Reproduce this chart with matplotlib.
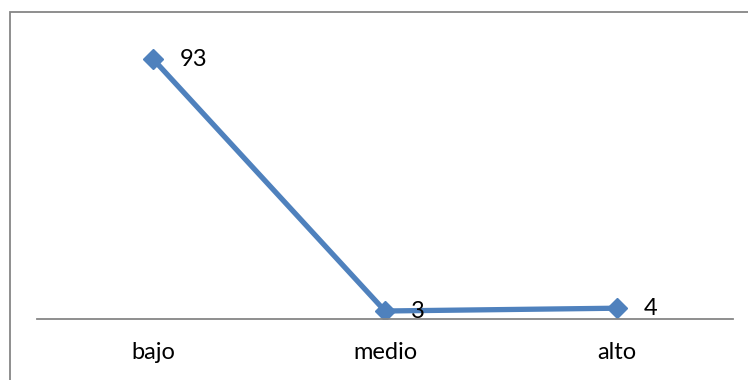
import matplotlib
matplotlib.use("Agg")
import matplotlib.pyplot as plt
from matplotlib.patches import Rectangle

categories = ["bajo", "medio", "alto"]
values = [93, 3, 4]

plt.rcParams['font.family'] = ['Lato', 'DejaVu Sans']

W, H = 748, 380
fig = plt.figure(figsize=(W / 100, H / 100), dpi=100)
fig.patch.set_facecolor("white")

# outer border (top and left visible, others run off the canvas)
fig.add_artist(Rectangle((9.5 / W, -0.1), 1.2, (H - 11.5) / H + 0.1,
                         transform=fig.transFigure, fill=False,
                         edgecolor="#868686", linewidth=1.3, clip_on=False))

ax = fig.add_axes([37 / W, (H - 319.4) / H, 696 / W, 280 / H])
x = list(range(len(categories)))
ax.plot(x, values, color="#4F81BD", linewidth=3.8, marker="D",
        markersize=10, markerfacecolor="#4F81BD", markeredgecolor="#4F81BD",
        solid_joinstyle="round")

for xi, v in zip(x, values):
    ax.annotate(str(v), (xi, v), xytext=(19, 0), textcoords="offset points",
                ha="left", va="center", fontsize=17, color="black")

ax.set_xlim(-0.5, 2.5)
ax.set_ylim(0, 100)
ax.set_xticks(x)
ax.set_xticklabels(categories, fontsize=17)
ax.tick_params(axis="x", length=0, pad=16)
ax.set_yticks([])
for s in ["top", "right", "left"]:
    ax.spines[s].set_visible(False)
ax.spines["bottom"].set_color("#868686")
ax.spines["bottom"].set_linewidth(1.3)
ax.set_facecolor("none")

fig.savefig("out.png", dpi=100)
